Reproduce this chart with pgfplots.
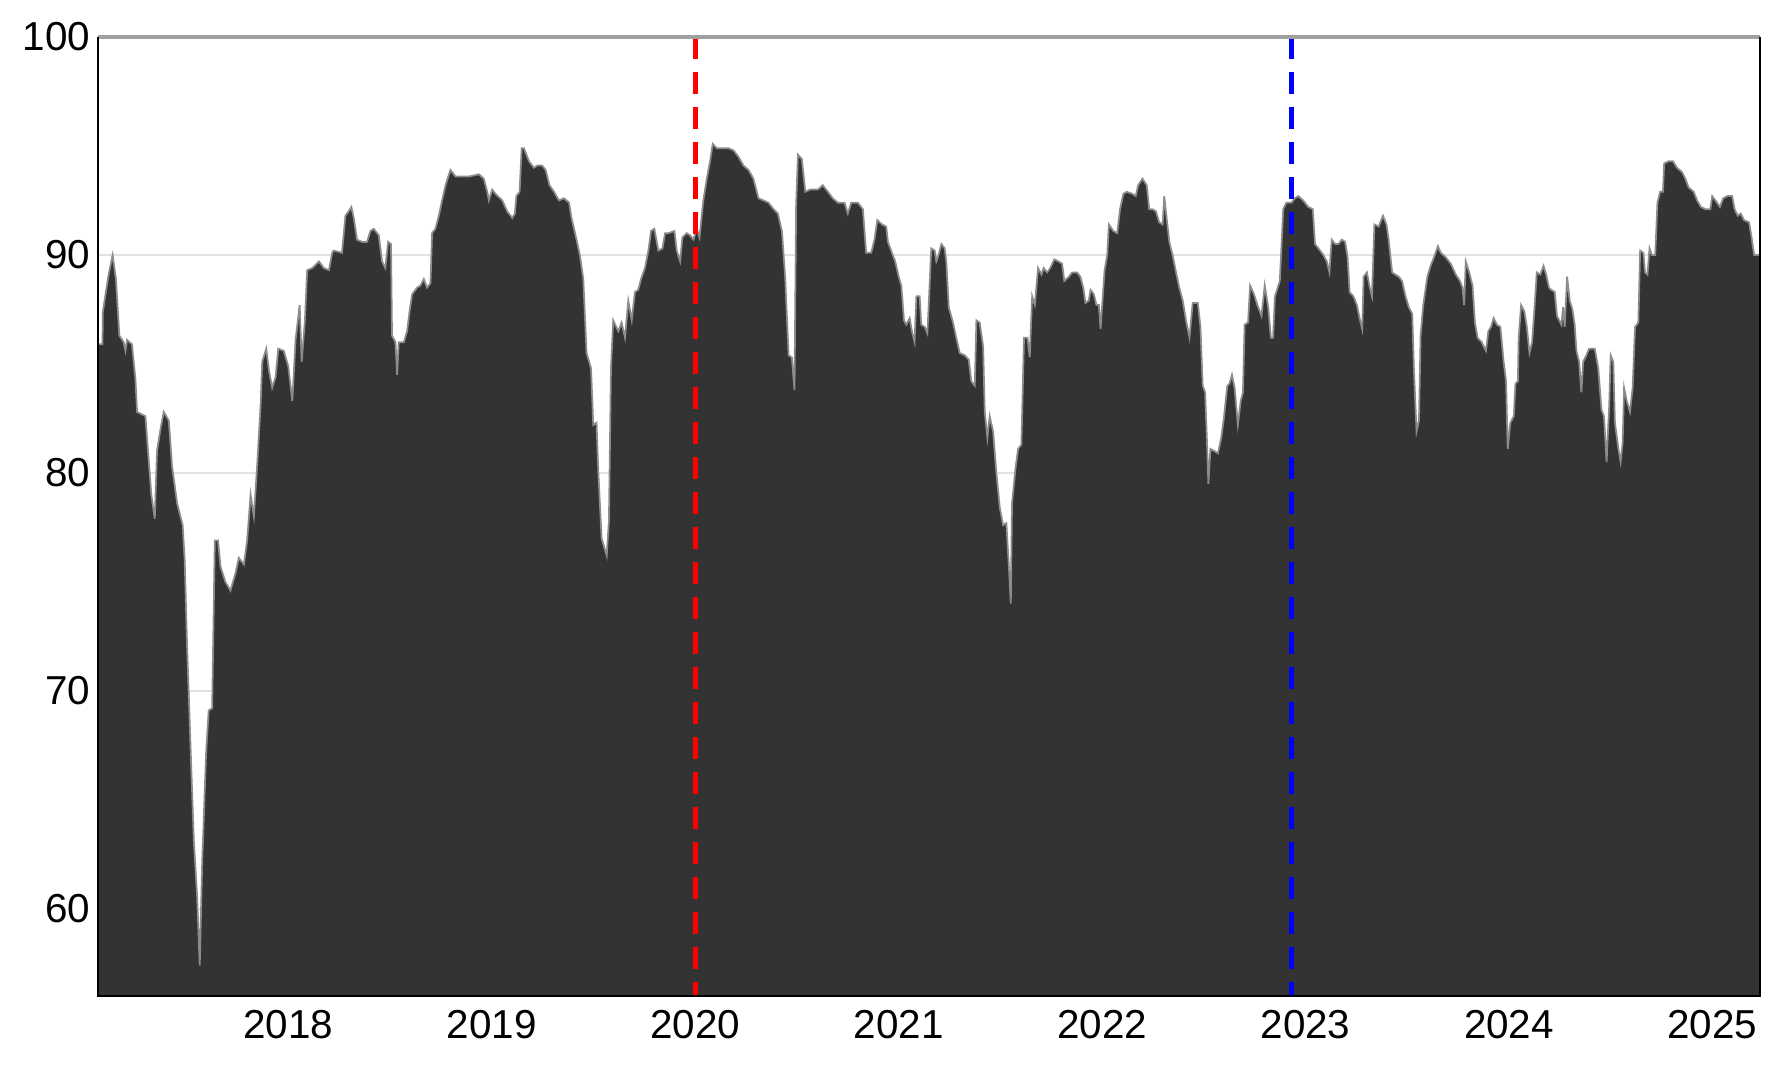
\documentclass[border=0pt]{standalone}
\usepackage{fontspec}
\setmainfont{Liberation Sans}
\usepackage{pgfplots}
\pgfplotsset{compat=1.18}

\definecolor{areagray}{HTML}{333333}
\definecolor{edgegray}{HTML}{8C8C8C}
\definecolor{gridgray}{HTML}{E2E2E2}
\definecolor{topgray}{HTML}{A0A0A0}

\begin{document}
\begin{tikzpicture}
\begin{axis}[
  scale only axis,
  width=166.2mm, height=95.9mm,
  xmin=2017.065, xmax=2025.233,
  ymin=56, ymax=100,
  axis line style={draw=none},
  xtick={2018,...,2025},
  ytick={60,70,80,90,100},
  tick pos=left,
  tick align=inside,
  major tick length=1.2mm,
  xtick style={black, line width=0.6pt},
  ytick style={draw=none},
  ymajorgrids,
  grid style={color=gridgray, line width=0.5pt},
  tick label style={font=\fontsize{11.5}{13}\selectfont, inner sep=0pt},
  xticklabel style={yshift=-1.4mm},
  yticklabel style={xshift=-0.7mm},
  /pgf/number format/1000 sep={},
  /pgf/number format/assume math mode=true,
]

% index level
\addplot[fill=areagray, draw=edgegray, line width=0.5pt] coordinates {
(2017.065,85.9)(2017.087,85.9)(2017.089,87.4)(2017.117,89.1)(2017.137,90.0)(2017.153,88.9)
(2017.170,86.3)(2017.191,86.0)(2017.200,85.6)(2017.208,86.1)(2017.232,85.9)(2017.249,84.3)
(2017.257,82.8)(2017.298,82.6)(2017.314,80.6)(2017.327,79.0)(2017.344,77.9)(2017.355,81.0)
(2017.372,82.0)(2017.388,82.8)(2017.413,82.4)(2017.429,80.3)(2017.454,78.6)(2017.481,77.6)
(2017.491,76.0)(2017.503,72.0)(2017.524,66.3)(2017.536,63.1)(2017.552,60.6)(2017.565,57.4)
(2017.577,62.1)(2017.596,67.1)(2017.609,69.1)(2017.626,69.2)(2017.639,76.9)(2017.655,76.9)
(2017.667,75.7)(2017.691,75.0)(2017.716,74.6)(2017.741,75.4)(2017.757,76.1)(2017.782,75.8)
(2017.798,76.9)(2017.815,79.0)(2017.831,78.0)(2017.847,80.3)(2017.864,83.1)(2017.872,85.1)
(2017.892,85.7)(2017.905,84.7)(2017.921,83.9)(2017.938,84.4)(2017.951,85.7)(2017.978,85.6)
(2018.000,84.9)(2018.020,83.3)(2018.036,86.1)(2018.056,87.7)(2018.066,85.1)(2018.082,87.0)
(2018.093,89.3)(2018.118,89.4)(2018.151,89.7)(2018.175,89.4)(2018.200,89.3)(2018.216,90.1)
(2018.223,90.2)(2018.264,90.1)(2018.281,91.8)(2018.297,92.0)(2018.310,92.2)(2018.322,91.7)
(2018.338,90.7)(2018.363,90.6)(2018.387,90.6)(2018.404,91.1)(2018.420,91.2)(2018.445,90.9)
(2018.461,89.7)(2018.477,89.4)(2018.491,90.6)(2018.505,90.5)(2018.510,86.3)(2018.527,86.0)
(2018.535,84.5)(2018.543,86.0)(2018.568,86.0)(2018.584,86.5)(2018.596,87.4)(2018.609,88.2)
(2018.633,88.5)(2018.650,88.6)(2018.666,88.9)(2018.682,88.5)(2018.699,88.7)(2018.707,91.0)
(2018.723,91.2)(2018.740,91.8)(2018.756,92.5)(2018.773,93.2)(2018.797,93.9)(2018.822,93.6)
(2018.855,93.6)(2018.888,93.6)(2018.937,93.7)(2018.961,93.5)(2018.978,92.9)(2018.986,92.5)
(2019.002,93.0)(2019.019,92.8)(2019.052,92.5)(2019.076,92.0)(2019.101,91.7)(2019.114,91.9)
(2019.121,92.7)(2019.137,92.9)(2019.147,94.9)(2019.158,94.9)(2019.183,94.3)(2019.207,94.0)
(2019.224,94.1)(2019.248,94.1)(2019.265,93.9)(2019.284,93.2)(2019.306,92.9)(2019.330,92.5)
(2019.355,92.6)(2019.380,92.4)(2019.392,91.7)(2019.412,90.9)(2019.433,90.0)(2019.450,88.9)
(2019.458,87.2)(2019.466,85.5)(2019.488,84.8)(2019.499,82.2)(2019.515,82.3)(2019.524,80.0)
(2019.540,77.0)(2019.565,76.2)(2019.576,77.8)(2019.586,84.8)(2019.597,87.0)(2019.622,86.5)
(2019.638,86.9)(2019.655,86.2)(2019.671,87.9)(2019.688,87.0)(2019.704,88.3)(2019.720,88.4)
(2019.734,88.9)(2019.753,89.4)(2019.770,90.2)(2019.783,91.1)(2019.799,91.2)(2019.819,90.2)
(2019.839,90.3)(2019.852,91.0)(2019.868,91.0)(2019.898,91.1)(2019.909,90.2)(2019.926,89.7)
(2019.937,90.8)(2019.958,91.0)(2019.975,90.9)(2019.991,90.7)(2020.008,91.2)(2020.021,90.8)
(2020.040,92.5)(2020.057,93.5)(2020.073,94.3)(2020.086,95.1)(2020.106,94.9)(2020.139,94.9)
(2020.163,94.9)(2020.188,94.8)(2020.213,94.5)(2020.237,94.1)(2020.262,93.9)(2020.286,93.5)
(2020.311,92.6)(2020.336,92.5)(2020.360,92.4)(2020.385,92.1)(2020.406,91.9)(2020.426,91.1)
(2020.442,89.0)(2020.459,85.4)(2020.475,85.3)(2020.488,83.8)(2020.496,92.3)(2020.505,94.6)
(2020.524,94.4)(2020.541,92.9)(2020.565,93.0)(2020.578,93.0)(2020.603,93.0)(2020.627,93.2)
(2020.652,92.9)(2020.676,92.6)(2020.701,92.4)(2020.734,92.4)(2020.750,91.9)(2020.767,92.4)
(2020.799,92.4)(2020.824,92.1)(2020.840,90.1)(2020.865,90.1)(2020.881,90.7)(2020.895,91.6)
(2020.918,91.4)(2020.939,91.3)(2020.947,90.6)(2020.967,90.1)(2020.983,89.7)(2021.000,89.0)
(2021.013,88.6)(2021.026,87.0)(2021.037,86.8)(2021.054,87.1)(2021.065,86.5)(2021.078,86.0)
(2021.087,88.1)(2021.103,88.1)(2021.111,86.8)(2021.128,86.7)(2021.141,86.4)(2021.147,87.6)
(2021.160,90.3)(2021.177,90.2)(2021.185,89.7)(2021.196,90.0)(2021.210,90.5)(2021.226,90.3)
(2021.234,89.7)(2021.246,87.6)(2021.267,86.9)(2021.283,86.2)(2021.300,85.5)(2021.324,85.4)
(2021.344,85.2)(2021.357,84.2)(2021.374,84.0)(2021.382,87.0)(2021.398,86.9)(2021.415,85.8)
(2021.423,82.8)(2021.436,81.6)(2021.447,82.6)(2021.464,81.9)(2021.480,80.0)(2021.497,78.4)
(2021.513,77.6)(2021.529,77.7)(2021.541,75.8)(2021.551,74.0)(2021.557,78.6)(2021.574,80.2)
(2021.587,81.1)(2021.603,81.3)(2021.616,86.2)(2021.633,86.2)(2021.644,85.3)(2021.656,88.1)
(2021.669,87.7)(2021.685,89.4)(2021.702,89.1)(2021.712,89.4)(2021.729,89.2)(2021.745,89.4)
(2021.765,89.8)(2021.786,89.7)(2021.803,89.6)(2021.814,88.8)(2021.836,89.0)(2021.852,89.2)
(2021.877,89.2)(2021.893,89.0)(2021.907,88.5)(2021.918,87.8)(2021.934,87.9)(2021.943,88.4)
(2021.959,88.2)(2021.972,87.7)(2021.984,87.7)(2021.992,86.6)(2022.000,87.7)(2022.012,89.3)
(2022.025,90.0)(2022.033,91.4)(2022.055,91.1)(2022.074,91.0)(2022.088,92.1)(2022.104,92.8)
(2022.121,92.9)(2022.149,92.8)(2022.165,92.7)(2022.177,93.2)(2022.198,93.5)(2022.219,93.2)
(2022.231,92.1)(2022.247,92.1)(2022.264,92.0)(2022.280,91.5)(2022.297,91.4)(2022.305,92.7)
(2022.318,91.6)(2022.330,90.6)(2022.346,90.0)(2022.363,89.2)(2022.379,88.5)(2022.396,87.9)
(2022.412,87.0)(2022.429,86.2)(2022.445,87.8)(2022.470,87.8)(2022.483,86.7)(2022.494,84.0)
(2022.506,83.7)(2022.516,81.2)(2022.522,79.5)(2022.532,81.1)(2022.552,81.0)(2022.569,80.9)
(2022.585,81.6)(2022.598,82.5)(2022.615,84.0)(2022.626,84.1)(2022.638,84.5)(2022.651,83.9)
(2022.667,82.2)(2022.681,83.3)(2022.692,83.7)(2022.700,86.8)(2022.717,86.9)(2022.727,88.6)
(2022.746,88.2)(2022.763,87.7)(2022.783,87.2)(2022.799,88.6)(2022.816,87.6)(2022.829,86.2)
(2022.840,86.2)(2022.849,88.1)(2022.873,88.8)(2022.890,92.1)(2022.906,92.4)(2022.931,92.4)
(2022.947,92.6)(2022.964,92.7)(2022.988,92.5)(2023.013,92.2)(2023.035,92.1)(2023.046,90.5)
(2023.063,90.3)(2023.087,90.0)(2023.104,89.7)(2023.117,89.2)(2023.128,90.7)(2023.145,90.5)
(2023.161,90.5)(2023.178,90.7)(2023.194,90.6)(2023.206,89.9)(2023.216,88.3)(2023.235,88.1)
(2023.252,87.7)(2023.265,87.1)(2023.278,86.6)(2023.285,89.0)(2023.301,89.2)(2023.315,88.5)
(2023.326,88.1)(2023.338,91.4)(2023.359,91.3)(2023.380,91.8)(2023.397,91.4)(2023.408,90.7)
(2023.425,89.2)(2023.441,89.1)(2023.458,89.0)(2023.474,88.8)(2023.491,88.1)(2023.507,87.6)
(2023.524,87.3)(2023.532,84.8)(2023.545,81.9)(2023.557,82.4)(2023.565,86.3)(2023.578,87.7)
(2023.598,89.0)(2023.614,89.5)(2023.631,89.9)(2023.650,90.4)(2023.664,90.1)(2023.688,89.9)
(2023.713,89.6)(2023.738,89.1)(2023.759,88.8)(2023.771,88.5)(2023.779,87.7)(2023.787,89.7)
(2023.804,89.2)(2023.820,88.6)(2023.832,86.9)(2023.845,86.2)(2023.865,86.0)(2023.886,85.6)
(2023.898,86.5)(2023.911,86.7)(2023.924,87.1)(2023.940,86.8)(2023.957,86.7)(2023.973,85.1)
(2023.985,84.2)(2023.993,81.1)(2024.006,82.3)(2024.023,82.6)(2024.031,84.1)(2024.043,84.2)
(2024.047,86.2)(2024.059,87.7)(2024.075,87.4)(2024.087,86.7)(2024.100,85.5)(2024.113,86.0)
(2024.125,87.6)(2024.136,89.2)(2024.153,89.1)(2024.169,89.5)(2024.182,89.1)(2024.196,88.5)
(2024.207,88.4)(2024.224,88.3)(2024.235,87.2)(2024.257,86.8)(2024.265,87.6)(2024.273,86.7)
(2024.285,89.0)(2024.298,87.9)(2024.311,87.5)(2024.322,86.8)(2024.331,85.6)(2024.344,85.1)
(2024.355,83.7)(2024.364,85.1)(2024.380,85.4)(2024.393,85.7)(2024.421,85.7)(2024.438,84.8)
(2024.454,82.9)(2024.466,82.6)(2024.479,80.5)(2024.492,83.1)(2024.499,85.4)(2024.512,85.1)
(2024.520,82.3)(2024.537,81.1)(2024.548,80.5)(2024.558,81.4)(2024.565,83.9)(2024.578,83.3)
(2024.594,82.8)(2024.607,83.9)(2024.619,86.7)(2024.635,86.9)(2024.644,90.2)(2024.660,90.1)
(2024.668,89.2)(2024.680,89.1)(2024.690,90.3)(2024.701,90.0)(2024.718,90.0)(2024.729,92.4)
(2024.742,92.9)(2024.756,92.9)(2024.762,94.2)(2024.784,94.3)(2024.805,94.3)(2024.825,94.0)
(2024.850,93.8)(2024.866,93.5)(2024.882,93.1)(2024.907,92.9)(2024.924,92.5)(2024.943,92.2)
(2024.965,92.1)(2024.989,92.1)(2024.998,92.7)(2025.014,92.5)(2025.036,92.2)(2025.052,92.6)
(2025.072,92.7)(2025.096,92.7)(2025.108,92.1)(2025.124,91.8)(2025.138,91.9)(2025.154,91.6)
(2025.179,91.5)(2025.190,90.9)(2025.204,90.0)(2025.233,90.0)
} \closedcycle;

% event markers
\addplot[red, line width=1.5pt, dash pattern=on 2.15mm off 1.35mm] coordinates {(2020,100) (2020,56)};
\addplot[blue, line width=1.5pt, dash pattern=on 2.15mm off 1.35mm] coordinates {(2022.93,100) (2022.93,56)};
\end{axis}

% frame: grey top, black on the other sides
\draw[topgray, line width=1.1pt] (current axis.north west) -- (current axis.north east);
\draw[black, line width=0.7pt] (current axis.north west) -- (current axis.south west)
  -- (current axis.south east) -- (current axis.north east);

% page margins as in the reference
\path ([xshift=-9.8mm,yshift=-7.2mm]current axis.south west)
  rectangle ([xshift=1.4mm,yshift=3.7mm]current axis.north east);
\end{tikzpicture}
\end{document}
